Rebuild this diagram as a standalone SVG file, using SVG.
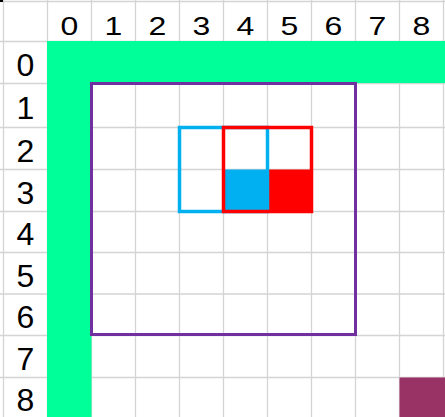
<svg xmlns="http://www.w3.org/2000/svg" width="445" height="417" viewBox="0 0 445 417">
<style>
.g{stroke:#D4D4D4;stroke-width:1.3;fill:none}
.lbl{font-family:"Liberation Sans",Arial,sans-serif;font-size:32px;fill:#000;text-anchor:middle}
</style>
<rect x="0" y="0" width="445" height="417" fill="#FFFFFF"/>
<g id="grid" class="g">
<path d="M3.5 0V417M47.5 0V417M91.5 0V417M135.5 0V417M179.5 0V417M223.5 0V417M267.5 0V417M311.5 0V417M355.5 0V417M399.5 0V417M443.5 0V417"/>
<path d="M0 1.5H445M0 41.5H445M0 83.5H445M0 127.5H445M0 169.5H445M0 211.5H445M0 252.5H445M0 294H445M0 335.5H445M0 377.5H445"/>
</g>
<rect x="0" y="0" width="3" height="2" fill="#000"/>
<g id="col-headers">
<text class="lbl" transform="translate(69.5,34.5) scale(1,0.82)">0</text>
<text class="lbl" transform="translate(113.5,34.5) scale(1,0.82)">1</text>
<text class="lbl" transform="translate(157.5,34.5) scale(1,0.82)">2</text>
<text class="lbl" transform="translate(201.5,34.5) scale(1,0.82)">3</text>
<text class="lbl" transform="translate(245.5,34.5) scale(1,0.82)">4</text>
<text class="lbl" transform="translate(289.5,34.5) scale(1,0.82)">5</text>
<text class="lbl" transform="translate(333.5,34.5) scale(1,0.82)">6</text>
<text class="lbl" transform="translate(377.5,34.5) scale(1,0.82)">7</text>
<text class="lbl" transform="translate(421.5,34.5) scale(1,0.82)">8</text>
</g>
<g id="row-headers">
<text class="lbl" x="25.5" y="75.5">0</text>
<text class="lbl" x="25.5" y="118.5">1</text>
<text class="lbl" x="25.5" y="161.5">2</text>
<text class="lbl" x="25.5" y="203.5">3</text>
<text class="lbl" x="25.5" y="245">4</text>
<text class="lbl" x="25.5" y="286.5">5</text>
<text class="lbl" x="25.5" y="328">6</text>
<text class="lbl" x="25.5" y="370">7</text>
<text class="lbl" x="25.5" y="410.5">8</text>
</g>
<g id="green-band" fill="#00FF99">
<rect x="47" y="41" width="398" height="42"/>
<rect x="47" y="41" width="44.5" height="376"/>
</g>
<rect id="maroon-cell" x="399.5" y="377.5" width="45.5" height="40" fill="#993366"/>
<rect id="purple-box" x="91.5" y="83.5" width="264" height="251" fill="none" stroke="#7030A0" stroke-width="3"/>
<rect id="blue-cell" x="223.5" y="169.5" width="44" height="42" fill="#00B0F0"/>
<rect id="red-cell" x="267.5" y="169.5" width="44" height="42" fill="#FF0000"/>
<rect id="blue-box" x="179.5" y="127.5" width="88" height="84" fill="none" stroke="#00B0F0" stroke-width="3.5"/>
<rect id="red-box" x="223.5" y="127.5" width="88" height="84" fill="none" stroke="#FF0000" stroke-width="3.5"/>
</svg>
